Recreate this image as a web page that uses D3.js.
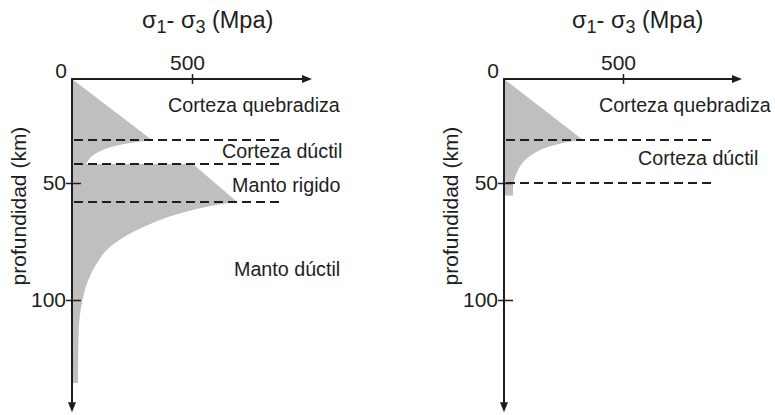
<!DOCTYPE html>
<html>
<head>
<meta charset="utf-8">
<script src="https://cdn.jsdelivr.net/npm/d3@7"></script>
<style>
  html, body { margin: 0; padding: 0; background: #fff; }
  svg { display: block; }
  text { font-family: "Liberation Sans", Arial, sans-serif; fill: #1e1e1e; }
</style>
</head>
<body>
<script>
// ---------------- DATA ----------------
const stressTicks = [500];
const depthTicks = [50, 100];
const stressMax = 1000;        // arrow tip of stress axis (MPa)
const depthMax = 148;          // arrow tip of depth axis (km)
const boundaryExtent = 875;    // dashed boundaries reach this stress (MPa)

// Left profile: strength envelope (depth km, stress MPa)
const leftDepth  = [0, 29.3, 29.8, 30.3, 31.0, 32.0, 33.2, 34.6, 36.1, 37.5, 38.9, 40.9,
                    40.9, 58.1, 59.4, 60.7, 62.4, 64.5, 66.7, 68.8, 70.9, 73.1, 75.2, 77.4, 79.9,
                    82.9, 85.9, 89.3, 93.6, 100, 106.4, 112.8, 121.4, 135.5];
const leftStress = [0, 333, 304, 271, 229, 188, 150, 119, 96, 79, 69, 58,
                    504, 688, 600, 538, 471, 400, 346, 298, 254, 217, 185, 158, 133,
                    113, 94, 77, 60, 44, 33, 28, 26, 25];
const leftBoundaries = [29.3, 40.9, 58.1];
const leftLabels = ["Corteza quebradiza", "Corteza dúctil", "Manto rigido", "Manto dúctil"];
const leftLabelDepth = [15.9, 38.0, 53.8, 89.7];
const leftLabelStress = [400, 625, 667, 675];

// Right profile
const rightDepth  = [0, 29.3, 29.8, 30.3, 31.0, 32.0, 33.2, 34.9, 36.5, 38.9, 41.4, 43.8, 46.2, 48.6, 50, 55.3];
const rightStress = [0, 332, 298, 269, 240, 206, 172, 139, 116, 88, 71, 59, 50, 42, 38, 38];
const rightBoundaries = [29.3, 50];
const rightLabels = ["Corteza quebradiza", "Corteza dúctil"];
const rightLabelDepth = [15.9, 41.3];
const rightLabelStress = [399, 563];

const xTitle = ["σ", "1", "- σ", "3", " (Mpa)"];
const yTitle = "profundidad (km)";

// ---------------- DRAW ----------------
const W = 775, H = 415;
const svg = d3.select("body").append("svg").attr("width", W).attr("height", H);
const ink = "#1e1e1e";
const fillGray = "#bfbfbf";

function panel(opt) {
  const x = d3.scaleLinear().domain([0, stressMax]).range(opt.xRange);
  // depth axis as drawn in the figure (non-uniform spacing)
  const y = d3.scaleLinear().domain([0, 50, 100]).range([79, 183, 300]);
  const g = svg.append("g");

  // envelope
  const pts = opt.depth.map((d, i) => ({d: d, s: opt.stress[i]}));
  let path = "";
  opt.segments.forEach((seg, k) => {
    const line = d3.line().x(p => x(p.s)).y(p => y(p.d))
      .curve(seg[2] ? d3.curveMonotoneY : d3.curveLinear);
    let p = line(pts.slice(seg[0], seg[1] + 1));
    if (k > 0) p = p.replace(/^M/, "L");
    path += p;
  });
  const last = opt.depth[opt.depth.length - 1];
  path += "L" + x(0) + "," + y(last) + "Z";
  g.append("path").attr("d", path).attr("fill", fillGray).attr("stroke", "none");

  // dashed boundaries
  g.selectAll(".bnd").data(opt.boundaries).enter().append("line")
    .attr("x1", x(0) + 2).attr("x2", x(boundaryExtent))
    .attr("y1", d => y(d)).attr("y2", d => y(d))
    .attr("stroke", ink).attr("stroke-width", 2)
    .attr("stroke-dasharray", "9,5");

  // stress axis
  const aLen = 10, aHalf = 4;
  g.append("line").attr("x1", x(0)).attr("x2", x(stressMax) - aLen + 1)
    .attr("y1", y(0)).attr("y2", y(0)).attr("stroke", ink).attr("stroke-width", 2);
  g.append("path").attr("fill", ink)
    .attr("d", `M${x(stressMax)},${y(0)}L${x(stressMax) - aLen},${y(0) - aHalf}L${x(stressMax) - aLen},${y(0) + aHalf}Z`);
  const xa = g.append("g").attr("transform", `translate(0,${y(0)})`)
    .call(d3.axisTop(x).tickValues(stressTicks).tickSize(5).tickPadding(4));
  xa.select(".domain").remove();
  xa.selectAll(".tick line").attr("y1", 5).attr("stroke", ink).attr("stroke-width", 1.5);
  xa.selectAll(".tick text").attr("font-size", 21).attr("fill", ink)
    .attr("font-family", "Liberation Sans, Arial, sans-serif").attr("dx", -5);

  // depth axis
  g.append("line").attr("x1", x(0)).attr("x2", x(0))
    .attr("y1", y(0) - 1).attr("y2", y(depthMax) - aLen + 1).attr("stroke", ink).attr("stroke-width", 2);
  g.append("path").attr("fill", ink)
    .attr("d", `M${x(0)},${y(depthMax)}L${x(0) - aHalf},${y(depthMax) - aLen}L${x(0) + aHalf},${y(depthMax) - aLen}Z`);
  const ya = g.append("g").attr("transform", `translate(${x(0)},0)`)
    .call(d3.axisLeft(y).tickValues(depthTicks).tickSize(6).tickPadding(0));
  ya.select(".domain").remove();
  ya.selectAll(".tick line").attr("x1", 9).attr("stroke", ink).attr("stroke-width", 1.5);
  ya.selectAll(".tick text").attr("font-size", 21).attr("fill", ink)
    .attr("font-family", "Liberation Sans, Arial, sans-serif");

  // zero label
  g.append("text").attr("x", x(0) - 5).attr("y", y(0) - 1)
    .attr("text-anchor", "end").attr("font-size", 21).text("0");

  // axis titles
  const t = g.append("text").attr("x", opt.titleX).attr("y", 28).attr("font-size", 23.5);
  t.append("tspan").text(xTitle[0]);
  t.append("tspan").attr("font-size", 18).attr("dy", 5).text(xTitle[1]);
  t.append("tspan").attr("dy", -5).text(xTitle[2]);
  t.append("tspan").attr("font-size", 18).attr("dy", 5).text(xTitle[3]);
  t.append("tspan").attr("dy", -5).text(xTitle[4]);

  g.append("text").attr("transform", `translate(${x(0) - 46},206) rotate(-90)`)
    .attr("text-anchor", "middle").attr("font-size", 21).text(yTitle);

  // layer labels
  g.selectAll(".lbl").data(opt.labels).enter().append("text")
    .attr("x", (d, i) => x(opt.labelStress[i]))
    .attr("y", (d, i) => y(opt.labelDepth[i]))
    .attr("font-size", 19.7).text(d => d);
}

panel({
  xRange: [72, 312], depth: leftDepth, stress: leftStress,
  segments: [[0, 1, false], [1, 11, true], [11, 13, false], [13, 33, true]],
  boundaries: leftBoundaries, labels: leftLabels,
  labelDepth: leftLabelDepth, labelStress: leftLabelStress, titleX: 142
});
panel({
  xRange: [504, 742], depth: rightDepth, stress: rightStress,
  segments: [[0, 1, false], [1, 14, true], [14, 15, false]],
  boundaries: rightBoundaries, labels: rightLabels,
  labelDepth: rightLabelDepth, labelStress: rightLabelStress, titleX: 572
});
</script>
</body>
</html>
